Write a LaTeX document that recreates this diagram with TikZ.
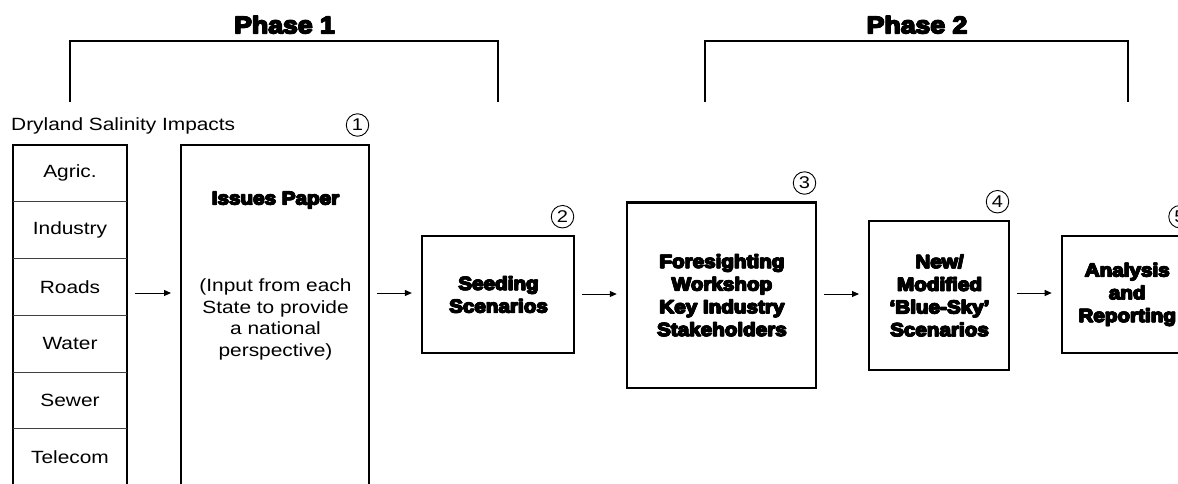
\documentclass[tikz,border=0pt]{standalone}
\usepackage{fontspec}
\usetikzlibrary{arrows.meta,calc}
\newfontfamily\regfont{Liberation Sans}[FakeStretch=1.18]
\newfontfamily\heavyfont{Liberation Sans Bold}[FakeStretch=1.11, FakeBold=3]
\newcommand\hvy[1]{\leavevmode\rlap{\hspace{1pt}#1}\rlap{\hspace{0.5pt}\raisebox{0.45pt}{#1}}\rlap{\hspace{0.5pt}\raisebox{-0.45pt}{#1}}#1\hspace{1pt}}
\begin{document}
\begin{tikzpicture}[x=1pt,y=-1pt,
  box/.style={draw, line width=2.3pt, inner sep=0pt, outer sep=0pt},
  bracket/.style={line width=2pt},
  divider/.style={line width=1pt, draw=black!75},
  arr/.style={line width=1pt, -{Triangle[length=7pt,width=6pt]}, shorten <=8pt, shorten >=10pt},
  reg/.style={font=\regfont\fontsize{17.7}{21.7}\selectfont, inner sep=0pt, align=center},
  heavy/.style={font=\heavyfont\fontsize{18.6}{22.7}\selectfont, inner sep=0pt, align=center},
  phase/.style={font=\heavyfont\fontsize{24}{28}\selectfont, inner sep=0pt},
  cell/.style={reg, minimum width=113.4pt, minimum height=56.7pt},
  num/.style={circle, draw, line width=0.9pt, minimum size=22.5pt, inner sep=0pt,
              font=\regfont\fontsize{17}{17}\selectfont}]
\useasboundingbox (0,0) rectangle (1178,483);
\clip (0,0) rectangle (1178,483);

% Phase brackets
\node[phase, anchor=base] (phase1) at (284,33.3) {\hvy{Phase 1}};
\node[phase, anchor=base] (phase2) at (916.5,33.3) {\hvy{Phase 2}};
\coordinate (p1l) at (70,102);
\coordinate (p1r) at (498,102);
\coordinate (p2l) at (705,102);
\coordinate (p2r) at (1128,102);
\draw[bracket] (p1l) -- ++(0,-61.3) -| (p1r);
\draw[bracket] (p2l) -- ++(0,-61.3) -| (p2r);

% Impacts column
\node[reg, anchor=base west] (drytitle) at (11,130) {Dryland Salinity Impacts};
\node[box, anchor=north west, minimum width=113.4pt, minimum height=360pt] (imp) at (13.3,145) {};
\node[cell] (agric) at (70,173.4) {Agric.};
\node[cell] (industry) at (70,230.1) {Industry};
\node[cell] (roads) at (70,286.8) {Roads};
\node[cell] (water) at (70,343.5) {Water};
\node[cell] (sewer) at (70,400.2) {Sewer};
\node[cell] (telecom) at (70,456.9) {Telecom};
\foreach \c in {agric,industry,roads,water,sewer}
  \draw[divider] (\c.south -| imp.west) -- (\c.south -| imp.east);

% Issues paper
\node[box, anchor=north west, minimum width=188pt, minimum height=360pt] (issues) at (181,145) {};
\node[heavy] (isstitle) at (275.5,200) {\hvy{Issues Paper}};
\node[reg] (issbody) at (275.5,319.5) {(Input from each\\State to provide\\a national\\perspective)};

% Process boxes
\node[box, heavy, minimum width=152.3pt, minimum height=117.3pt] (seed) at (498,294.5) {\hvy{Seeding}\\\hvy{Scenarios}};
\node[box, heavy, minimum width=189.3pt, minimum height=185.7pt] (fore) at (721.4,295.2) {\hvy{Foresighting}\\\hvy{Workshop}\\\hvy{Key Industry}\\\hvy{Stakeholders}};
\node[box, heavy, minimum width=140pt, minimum height=149.3pt] (new) at (939,295.4) {\hvy{New/}\\\hvy{Modified}\\\hvy{‘Blue-Sky’}\\\hvy{Scenarios}};
\node[box, heavy, minimum width=130pt, minimum height=117.3pt] (anal) at (1126.7,294.4) {\hvy{Analysis}\\\hvy{and}\\\hvy{Reporting}};

% Numbers
\node[num] (n1) at (357.5,125) {1};
\node[num] (n2) at (562.5,216.7) {2};
\node[num] (n3) at (804.5,183) {3};
\node[num] (n4) at (997.5,201.7) {4};
\node[num] (n5) at (1180,216.7) {5};

% Arrows
\coordinate (ya) at (0,293);
\coordinate (yb) at (0,294);
\draw[arr] (imp.east |- ya) -- (issues.west |- ya);
\draw[arr] (issues.east |- ya) -- (seed.west |- ya);
\draw[arr] (seed.east |- yb) -- (fore.west |- yb);
\draw[arr] (fore.east |- yb) -- (new.west |- yb);
\draw[arr] (new.east |- ya) -- (anal.west |- ya);
\end{tikzpicture}
\end{document}
